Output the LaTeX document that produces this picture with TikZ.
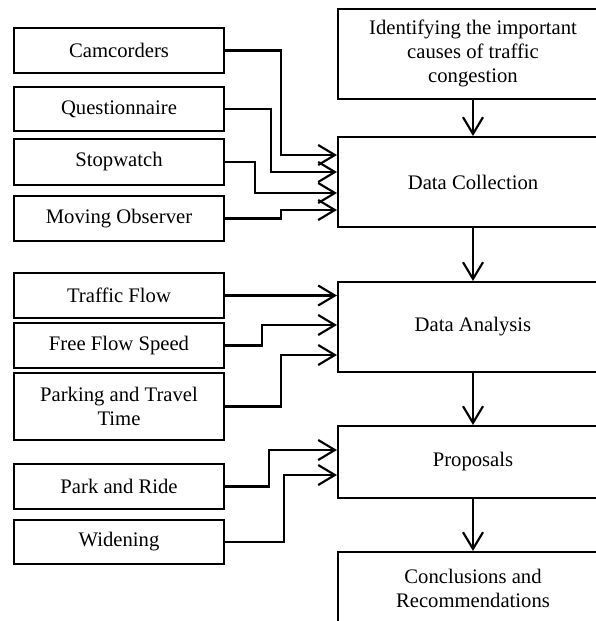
\documentclass[tikz,border=0pt]{standalone}
\usepackage{fontspec}
\setmainfont{Liberation Serif}
\usetikzlibrary{arrows.meta}
\begin{document}
\begin{tikzpicture}[x=0.75pt,y=-0.75pt,
	font=\fontsize{15.5}{18}\selectfont,
	box/.style={draw,line width=1.6pt,minimum width=157.5pt,minimum height=33.75pt,align=center,inner sep=0pt},
	stage/.style={draw,line width=1.6pt,minimum width=202.5pt,minimum height=67.5pt,align=center,inner sep=0pt},
	flow/.style={draw,line width=1.6pt,-{Straight Barb[length=12.5pt,width=15pt,line width=1.6pt]}}]
	\useasboundingbox (0,0) rectangle (596,621);
	\clip (0,0) rectangle (596,621);
	%stages
	\node[stage] (ident) at (473,54) {\raisebox{-3pt}{\begin{tabular}{@{}c@{}}Identifying the important\\causes of traffic\\congestion\end{tabular}}};
	\node[stage] (dc) at (473,182) {Data Collection};
	\node[stage] (da) at (473,327) {Data Analysis};
	\node[stage,minimum height=54pt] (prop) at (473,462) {Proposals};
	\node[stage,minimum height=54pt] (concl) at (473,588) {Conclusions and\\Recommendations};
	%inputs
	\node[box] (cam) at (119,50.5) {Camcorders};
	\node[box,minimum height=33pt] (quest) at (119,109) {Questionnaire};
	\node[box,minimum height=34.5pt] (stop) at (119,162) {Stopwatch};
	\node[box] (mov) at (119,218.5) {Moving Observer};
	\node[box] (traffic) at (119,295.5) {Traffic Flow};
	\node[box] (free) at (119,345.5) {Free Flow Speed};
	\node[box,minimum height=50.25pt] (park) at (119,406.5) {Parking and Travel\\Time};
	\node[box] (pnr) at (119,486.5) {Park and Ride};
	\node[box,minimum height=33pt] (widen) at (119,542) {Widening};
	%main flow
	\draw[flow] (ident) -- (dc);
	\draw[flow] (dc) -- (da);
	\draw[flow] (da) -- (prop);
	\draw[flow] (prop) -- (concl);
	%to data collection
	\draw[flow] (cam.east) -| (281,155) -- (dc.west |- 0,155);
	\draw[flow] (quest.east) -| (271,172) -- (dc.west |- 0,172);
	\draw[flow] (stop.east) -| (255,193) -- (dc.west |- 0,193);
	\draw[flow] (mov.east) -| (281,210) -- (dc.west |- 0,210);
	%to data analysis
	\draw[flow] (traffic.east) -- (da.west |- traffic.east);
	\draw[flow] (free.east) -| (262,325) -- (da.west |- 0,325);
	\draw[flow] (park.east) -| (281,355) -- (da.west |- 0,355);
	%to proposals
	\draw[flow] (pnr.east) -| (269,450) -- (prop.west |- 0,450);
	\draw[flow] (widen.east) -| (284,475) -- (prop.west |- 0,475);
\end{tikzpicture}
\end{document}
